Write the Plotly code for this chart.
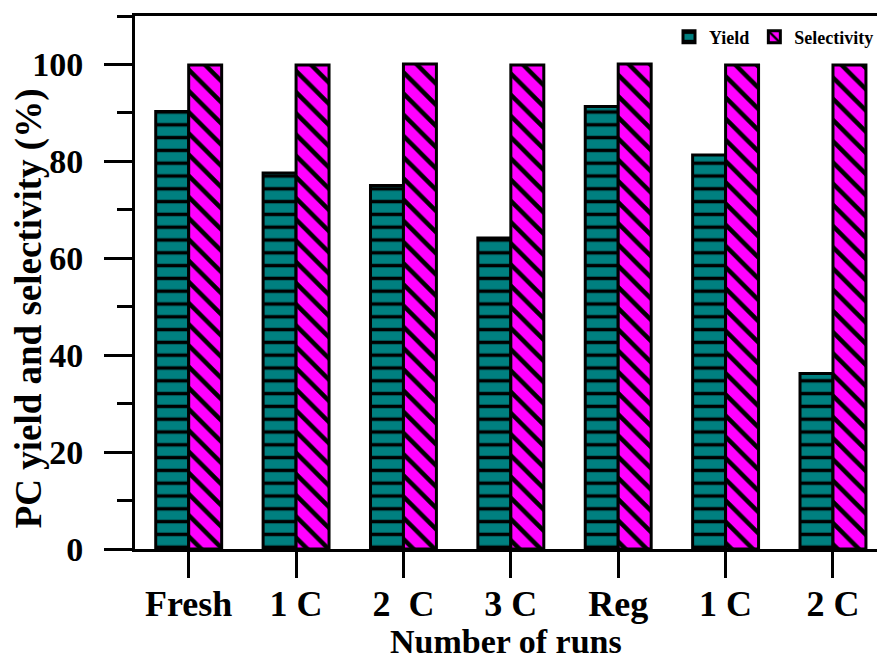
import plotly.graph_objects as go

# Catalyst recycling runs
runs = ["Fresh", "1 C", "2\u00a0\u00a0C", "3 C", "Reg", "1 C", "2 C"]
yield_pc = [90.3, 77.6, 75.0, 64.2, 91.3, 81.3, 36.2]
selectivity_pc = [99.9, 99.9, 100.1, 99.9, 100.1, 99.9, 99.9]
y_ticks = [0, 20, 40, 60, 80, 100]

positions = list(range(len(runs)))
FONT = "Liberation Serif"

fig = go.Figure()
fig.add_trace(go.Bar(
    x=positions, y=yield_pc, name="Yield",
    marker=dict(color="#008080",
                line=dict(color="black", width=3),
                pattern=dict(shape="-", fgcolor="black", bgcolor="#008080",
                             size=12.8, solidity=0.27, fillmode="replace")),
))
fig.add_trace(go.Bar(
    x=positions, y=selectivity_pc, name="Selectivity",
    marker=dict(color="#FF00FF",
                line=dict(color="black", width=3),
                pattern=dict(shape="\\", fgcolor="black", bgcolor="#FF00FF",
                             size=15, solidity=0.3, fillmode="replace")),
))

fig.update_layout(
    width=879, height=659,
    margin=dict(l=135, r=0, t=16, b=110),
    barmode="group", bargap=0.386, bargroupgap=0,
    plot_bgcolor="white", paper_bgcolor="white",
    font=dict(family=FONT, color="black", weight="bold"),
    showlegend=True,
    legend=dict(orientation="h", x=0.72, y=0.995, xanchor="left", yanchor="top",
                font=dict(size=18, family=FONT, weight="bold"),
                bgcolor="rgba(0,0,0,0)", itemwidth=30,
                tracegroupgap=0, traceorder="normal"),
    xaxis=dict(
        range=[-0.5, 6.41],
        tickvals=positions, ticktext=runs,
        ticks="outside", ticklen=26, tickwidth=3, tickcolor="black",
        ticklabelstandoff=-5,
        showline=True, linecolor="black", linewidth=3, mirror=True,
        showgrid=False, zeroline=False,
        tickfont=dict(size=36, family=FONT, weight="bold"),
    ),
    yaxis=dict(
        range=[0, 110],
        tickvals=y_ticks,
        ticks="outside", ticklen=28, tickwidth=3, tickcolor="black",
        ticklabelstandoff=14,
        minor=dict(dtick=10, tick0=10, ticks="outside", ticklen=15,
                   tickwidth=3, tickcolor="black", showgrid=False),
        showline=True, linecolor="black", linewidth=3,
        showgrid=False, zeroline=False,
        tickfont=dict(size=34, family=FONT, weight="bold"),
    ),
    annotations=[
        dict(text="Number of runs", xref="paper", yref="paper",
             x=0.5, y=-0.174, xanchor="center", yanchor="middle",
             showarrow=False, font=dict(size=34, family=FONT, weight="bold")),
        dict(text="PC yield and selectivity (%)", xref="paper", yref="paper",
             x=-0.1425, y=0.452, xanchor="center", yanchor="middle",
             textangle=-90, showarrow=False,
             font=dict(size=37, family=FONT, weight="bold")),
    ],
)

fig.write_html("out.html")
